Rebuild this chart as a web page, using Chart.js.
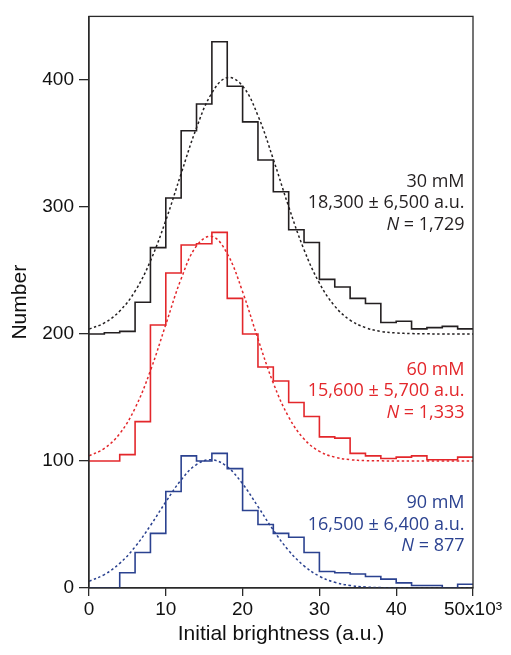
<!DOCTYPE html>
<html>
<head>
<meta charset="utf-8">
<title>Initial brightness histograms</title>
<script src="https://cdn.jsdelivr.net/npm/chart.js@4.4.1/dist/chart.umd.min.js"></script>
<style>
  html, body { margin: 0; padding: 0; background: #fff; }
  #chart { display: block; }
</style>
</head>
<body>
<canvas id="chart" width="511" height="655"></canvas>
<script>
  'use strict';

  // Histogram bins: left edges in units of 10^3 a.u., bin width 2
  const binEdges = [0, 2, 4, 6, 8, 10, 12, 14, 16, 18, 20, 22, 24, 26, 28, 30, 32, 34, 36, 38, 40, 42, 44, 46, 48];
  const binEnd = 50;

  // Counts per bin
  const counts30 = [0, 1, 2, 25, 68, 107, 160, 181, 230, 195, 167, 137, 112, 82, 72, 43, 37, 28, 24, 9, 10, 4, 5, 6, 4];
  const counts60 = [0, 0, 5, 31, 107, 148, 170, 171, 180, 128, 100, 74, 63, 46, 35, 19, 18, 6, 4, 2, 3, 4, 1, 1, 3];
  const counts90 = [0, 0, 12, 28, 43, 76, 104, 100, 106, 94, 61, 50, 43, 40, 28, 13, 12, 11, 9, 7, 4, 2, 2, 0, 3];

  // Vertical offsets used to stack the histograms
  const offset30 = 200;
  const offset60 = 100;
  const offset90 = 0;

  const fitX = [0, 2, 4, 6, 8, 10, 12, 14, 16, 18, 20, 22, 24, 26, 28, 30, 32, 34, 36, 38, 40, 42, 44, 46, 48, 50];
  const fit30 = [3.8, 8.7, 18.0, 33.7, 57.5, 89.4, 126.3, 162.3, 189.7, 201.8, 195.2, 171.8, 137.5, 100.2, 66.3, 40.0, 21.9, 10.9, 5.0, 2.0, 0.8, 0.3, 0.1, 0, 0, 0];
  const fit60 = [4.0, 9.9, 21.5, 41.6, 71.1, 107.4, 143.4, 169.3, 176.8, 163.2, 133.2, 96.1, 61.3, 34.6, 17.3, 7.6, 3.0, 1.0, 0.3, 0.1, 0, 0, 0, 0, 0, 0];
  const fit90 = [5.3, 10.6, 19.4, 32.4, 49.2, 67.8, 85.1, 97.2, 100.9, 95.4, 82.0, 64.1, 45.6, 29.5, 17.4, 9.3, 4.5, 2.0, 0.8, 0.3, 0.1, 0, 0, 0, 0, 0];

  // Axis ticks
  const xTicks = [0, 10, 20, 30, 40, 50];
  const yTicks = [0, 100, 200, 300, 400];

  // Annotation text
  const concLabels = ['30 mM', '60 mM', '90 mM'];
  const meanLabels = ['18,300 \u00b1 6,500 a.u.', '15,600 \u00b1 5,700 a.u.', '16,500 \u00b1 6,400 a.u.'];
  const nLabels = ['1,729', '1,333', '877'];

  const colors = {
    c30: '#231f20',
    c60: '#e3272b',
    c90: '#2b4290',
    axis: '#2a2a2a'
  };

  // Point at each left edge carries that bin's count; last point closes the final bin
  const histPoints = (counts, offset) => {
    const pts = binEdges.map((x, i) => ({ x, y: counts[i] + offset }));
    pts.push({ x: binEnd, y: counts[counts.length - 1] + offset });
    return pts;
  };

  const fitPoints = (fit, offset) => fitX.map((x, i) => ({ x, y: fit[i] + offset }));

  const histStyle = (color) => ({
    borderColor: color,
    borderWidth: 1.6,
    stepped: 'before',
    pointRadius: 0,
    fill: false
  });

  const fitStyle = (color) => ({
    borderColor: color,
    borderWidth: 1.5,
    borderDash: [2.5, 2.5],
    tension: 0.4,
    pointRadius: 0,
    fill: false
  });

  // Frame (top + right border)
  const framePlugin = {
    id: 'frame',
    afterDraw(chart) {
      const { ctx, chartArea: a } = chart;
      ctx.save();
      ctx.strokeStyle = colors.axis;
      ctx.lineWidth = 1.3;
      ctx.strokeRect(a.left, a.top, a.right - a.left, a.bottom - a.top);
      ctx.restore();
    }
  };

  // Three-line label next to each histogram
  const labelPlugin = {
    id: 'groupLabels',
    afterDatasetsDraw(chart) {
      const { ctx } = chart;
      const xs = chart.scales.x;
      const ys = chart.scales.y;
      const xr = xs.getPixelForValue(48.9);
      const anchors = [321, 173, 68];
      const cols = [colors.c30, colors.c60, colors.c90];
      const lineGap = 21.6;
      const font = '18px "Open Sans", sans-serif';
      const italic = 'italic 18px "Open Sans", sans-serif';

      ctx.save();
      ctx.textBaseline = 'alphabetic';
      anchors.forEach((v, i) => {
        const y0 = ys.getPixelForValue(v) + 6.5;
        ctx.fillStyle = cols[i];
        ctx.font = font;
        ctx.textAlign = 'right';
        ctx.fillText(concLabels[i], xr, y0);
        ctx.fillText(meanLabels[i], xr, y0 + lineGap);
        const rest = ' = ' + nLabels[i];
        ctx.fillText(rest, xr, y0 + lineGap * 2);
        const w = ctx.measureText(rest).width;
        ctx.font = italic;
        ctx.fillText('N', xr - w, y0 + lineGap * 2);
      });
      ctx.restore();
    }
  };

  new Chart(document.getElementById('chart'), {
    type: 'line',
    data: {
      datasets: [
        { label: '30 mM', data: histPoints(counts30, offset30), ...histStyle(colors.c30) },
        { label: '30 mM fit', data: fitPoints(fit30, offset30), ...fitStyle(colors.c30) },
        { label: '60 mM', data: histPoints(counts60, offset60), ...histStyle(colors.c60) },
        { label: '60 mM fit', data: fitPoints(fit60, offset60), ...fitStyle(colors.c60) },
        { label: '90 mM', data: histPoints(counts90, offset90), ...histStyle(colors.c90) },
        { label: '90 mM fit', data: fitPoints(fit90, offset90), ...fitStyle(colors.c90) }
      ]
    },
    options: {
      responsive: false,
      animation: false,
      devicePixelRatio: 1,
      layout: { padding: { top: 12, right: 38, left: 0, bottom: 0 } },
      plugins: {
        legend: { display: false },
        tooltip: { enabled: false }
      },
      scales: {
        x: {
          type: 'linear',
          min: 0,
          max: 50,
          afterFit: (s) => { s.height = 67; },
          afterBuildTicks: (s) => { s.ticks = xTicks.map((v) => ({ value: v })); },
          border: { display: true, color: colors.axis, width: 1.3 },
          grid: { drawOnChartArea: false, drawTicks: true, tickLength: 8, color: colors.axis, lineWidth: 1.3 },
          ticks: {
            color: '#111',
            padding: 2,
            maxRotation: 0,
            font: { family: '"Liberation Sans", Arial, sans-serif', size: 19 },
            callback: (v) => (v === 50 ? '50x10\u00b3' : String(v))
          },
          title: {
            display: true,
            text: 'Initial brightness (a.u.)',
            color: '#111',
            padding: { top: 0, bottom: 8 },
            font: { family: '"Liberation Sans", Arial, sans-serif', size: 21 }
          }
        },
        y: {
          type: 'linear',
          min: 0,
          max: 450,
          afterFit: (s) => { s.width = 89; },
          afterBuildTicks: (s) => { s.ticks = yTicks.map((v) => ({ value: v })); },
          border: { display: true, color: colors.axis, width: 1.3 },
          grid: { drawOnChartArea: false, drawTicks: true, tickLength: 10, color: colors.axis, lineWidth: 1.3 },
          ticks: {
            color: '#111',
            padding: 5,
            font: { family: '"Liberation Sans", Arial, sans-serif', size: 19 }
          },
          title: {
            display: true,
            text: 'Number',
            color: '#111',
            padding: { top: 8, bottom: 0 },
            font: { family: '"Liberation Sans", Arial, sans-serif', size: 21 }
          }
        }
      }
    },
    plugins: [framePlugin, labelPlugin]
  });
</script>
</body>
</html>
